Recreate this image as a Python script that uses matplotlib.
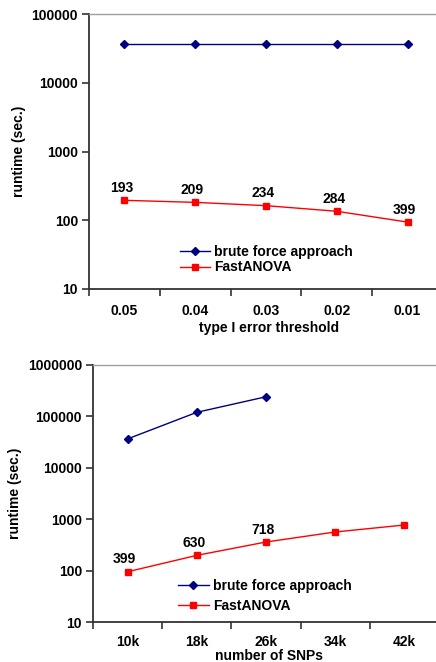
import numpy as np
import matplotlib.pyplot as plt
from matplotlib.ticker import NullLocator

plt.rcParams['font.family'] = ['Liberation Sans', 'DejaVu Sans']
plt.rcParams['font.weight'] = 'bold'

# Data: top panel (type I error threshold)
thresholds = ["0.05", "0.04", "0.03", "0.02", "0.01"]
brute_top = [37000, 37000, 37000, 37000, 37000]
fast_top = [195, 182, 163, 135, 94]
labels_top = ["193", "209", "234", "284", "399"]

# Data: bottom panel (number of SNPs)
snps = ["10k", "18k", "26k", "34k", "42k"]
brute_bot = [36500, 120000, 241000]
fast_bot = [95, 198, 360, 564, 771]
labels_bot = ["399", "630", "718"]

navy = "#000080"
red = "#FF0000"

fig = plt.figure(figsize=(4.36, 6.62), dpi=100)
W, H = 436, 662


def make_axes(left, top, right, bottom):
    return fig.add_axes([left / W, 1 - bottom / H, (right - left) / W, (bottom - top) / H])


def style(ax, cats, ymax, xlabel, tick_pad, label_y):
    ax.set_yscale("log")
    ax.set_ylim(10, ymax)
    ax.set_xlim(-0.5, len(cats) - 0.5)
    ax.set_xticks(np.arange(len(cats)))
    ax.set_xticklabels(cats, fontsize=10, fontweight="bold")
    ax.set_xticks(np.arange(len(cats) + 1) - 0.5, minor=True)
    ax.tick_params(axis="x", which="major", length=0, pad=tick_pad)
    ax.tick_params(axis="x", which="minor", length=5, direction="out", width=1.2, color="#333333")
    ticks = [10 ** k for k in range(1, int(np.log10(ymax)) + 1)]
    ax.set_yticks(ticks)
    ax.set_yticklabels([str(t) for t in ticks], fontsize=10, fontweight="bold")
    ax.yaxis.set_minor_locator(NullLocator())
    ax.tick_params(axis="y", length=5, width=1.2, color="#333333", pad=3)
    ax.spines["right"].set_visible(False)
    ax.spines["top"].set_color("#a0a0a0")
    ax.spines["top"].set_linewidth(1.0)
    for s in ("left", "bottom"):
        ax.spines[s].set_color("#333333")
        ax.spines[s].set_linewidth(1.3)
    ax.set_ylabel("runtime (sec.)", fontsize=10, fontweight="bold", labelpad=4)
    ax.set_xlabel(xlabel, fontsize=10, fontweight="bold", va="center")
    ax.xaxis.set_label_coords(0.51, label_y)


def value_labels(ax, xs, ys, labels):
    for xi, yi, lab in zip(xs, ys, labels):
        ax.annotate(lab, (xi, yi), xytext=(-2, 9), textcoords="offset points",
                    ha="center", va="center", fontsize=10, fontweight="bold")


# Top panel
ax1 = make_axes(89, 14, 443, 289)
x1 = np.arange(len(thresholds))
ax1.plot(x1, brute_top, color=navy, marker="D", markersize=4.5, lw=1.0, label="brute force approach")
ax1.plot(x1, fast_top, color=red, marker="s", markersize=4.5, lw=1.0, label="FastANOVA")
value_labels(ax1, x1, fast_top, labels_top)
style(ax1, thresholds, 100000, "type I error threshold", 11, (289 - 328) / 275)
ax1.legend(loc="upper left", bbox_to_anchor=(0.24, 0.18), frameon=False, fontsize=10,
           handlelength=2.2, handletextpad=0.3, labelspacing=0.1, borderaxespad=0)

# Bottom panel
ax2 = make_axes(93, 365, 439, 622)
x2 = np.arange(len(snps))
ax2.plot(x2[:len(brute_bot)], brute_bot, color=navy, marker="D", markersize=4.5, lw=1.0,
         label="brute force approach")
ax2.plot(x2, fast_bot, color=red, marker="s", markersize=4.5, lw=1.0, label="FastANOVA")
value_labels(ax2, x2, fast_bot, labels_bot)
style(ax2, snps, 1000000, "number of SNPs", 9, (622 - 656) / 257)
ax2.legend(loc="upper left", bbox_to_anchor=(0.23, 0.19), frameon=False, fontsize=10,
           handlelength=2.2, handletextpad=0.3, labelspacing=0.45, borderaxespad=0)

fig.savefig("out.png", dpi=100)
